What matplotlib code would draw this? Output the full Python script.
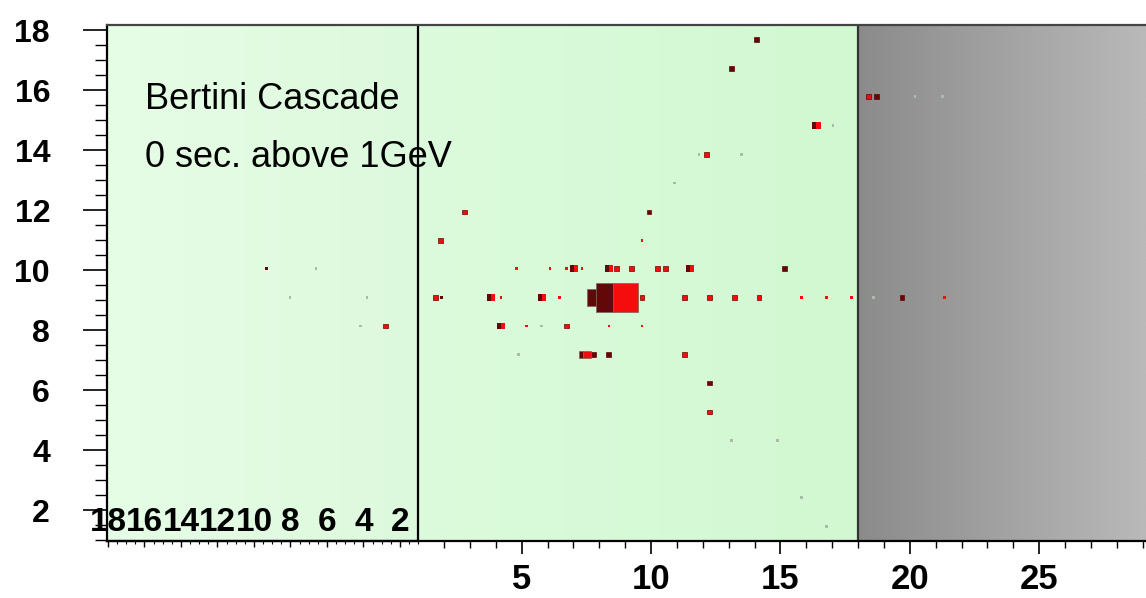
import matplotlib.pyplot as plt
import numpy as np
from matplotlib.colors import to_rgb
from matplotlib.ticker import FixedLocator, MultipleLocator

plt.rcParams['font.family'] = ['Liberation Sans', 'DejaVu Sans']

# axis ticks
y_major = [2, 4, 6, 8, 10, 12, 14, 16, 18]
x_major = [5, 10, 15, 20, 25]
x_minor = [v for v in range(2, 30) if v % 5]
inset_ticks = [18, 16, 14, 12, 10, 8, 6, 4, 2]

text_lines = ['Bertini Cascade', '0 sec. above 1GeV']

# cells of the 2D histogram: level 0 faint, 1 dark red, 2 red
tiny_x = [-4.86, -2.95, -3.96, -0.98, -1.22, 4.81, 6.09, 6.74, 7.33, 1.91, 4.20, 6.47,
          15.82, 16.78, 17.75, 18.6, 21.35, 5.19, 5.78, 8.37, 9.65, 4.86, 9.65, 17.03,
          11.85, 13.50, 10.89, 20.20, 21.25, 13.12, 14.87, 15.82, 16.78]
tiny_y = [10.05, 10.05, 9.09, 9.09, 8.14, 10.05, 10.05, 10.05, 10.05, 9.09, 9.09, 9.09,
          9.09, 9.09, 9.09, 9.09, 9.09, 8.14, 8.14, 8.14, 8.14, 7.19, 10.99, 14.82,
          13.86, 13.86, 12.90, 15.78, 15.78, 4.31, 4.31, 2.41, 1.46]
tiny_level = [1, 0, 0, 0, 0, 2, 2, 2, 2, 1, 2, 2,
              2, 2, 2, 0, 2, 2, 0, 2, 2, 0, 2, 0,
              0, 0, 0, 0, 0, 0, 0, 0, 0]

small_x = [14.08, 13.12, 12.15, 9.92, 2.80, 1.85, 8.67, 9.26, 10.23, 10.54, 15.14, 1.65,
           9.65, 11.28, 12.24, 13.21, 14.17, 19.7, 18.42, 18.73, -0.25, 6.74, 8.37, 11.28,
           12.24, 12.24, 7.77]
small_y = [17.68, 16.72, 13.86, 11.94, 11.94, 10.99, 10.05, 10.05, 10.05, 10.05, 10.05, 9.09,
           9.09, 9.09, 9.09, 9.09, 9.09, 9.09, 15.78, 15.78, 8.14, 8.14, 7.19, 7.19,
           6.23, 5.27, 7.19]
small_level = [1, 1, 2, 1, 2, 2, 2, 2, 2, 2, 1, 2,
               2, 2, 2, 2, 2, 1, 2, 1, 2, 2, 1, 2,
               1, 2, 1]

medium_x = [7.03, 8.37, 11.51, 3.81, 5.77, 4.21, 16.39]
medium_y = [10.05, 10.05, 10.05, 9.09, 9.09, 8.14, 14.82]

box_x0 = [7.52, 7.87, 8.53, 7.22, 7.37]
box_x1 = [7.87, 8.53, 9.50, 7.37, 7.68]
box_y0 = [8.80, 8.60, 8.60, 7.06, 7.06]
box_y1 = [9.37, 9.57, 9.57, 7.32, 7.32]
box_level = [1, 1, 2, 1, 2]

level_colors = ['#a9bca9', '#620808', '#f50d0d']

fig = plt.figure(figsize=(11.46, 5.98), dpi=100)
ax = fig.add_axes([0.0934, 0.0953, 0.9066, 0.8629])
xlo, xhi, ylo, yhi = -11.03, 29.13, 0.97, 18.17


def gradient(x0, x1, c0, c1):
    g = np.linspace(0, 1, 256)[None, :, None]
    img = np.array(to_rgb(c0)) * (1 - g) + np.array(to_rgb(c1)) * g
    ax.imshow(img, extent=(x0, x1, ylo, yhi), aspect='auto', zorder=0)


gradient(xlo, 1, '#e6fde6', '#ddf9dd')
gradient(1, 18, '#dcfbdc', '#d1f8d1')
gradient(18, xhi, '#8b8b8b', '#b9b9b9')
ax.axvline(1, color='black', lw=1.6, zorder=2)
ax.axvline(18, color='#333333', lw=1.6, zorder=2)

cols = [level_colors[l] for l in tiny_level]
ax.bar(tiny_x, 0.09, width=0.11, bottom=np.array(tiny_y) - 0.045, color=cols, lw=0, zorder=3)
cols = [level_colors[l] for l in small_level]
ax.bar(small_x, 0.15, width=0.19, bottom=np.array(small_y) - 0.075, color=cols,
       edgecolor='#6a0000', lw=0.5, zorder=3)
# medium cells: dark left half, red right half
ax.bar(np.array(medium_x) - 0.08, 0.22, width=0.16, bottom=np.array(medium_y) - 0.11,
       color=level_colors[1], lw=0, zorder=3)
ax.bar(np.array(medium_x) + 0.08, 0.22, width=0.16, bottom=np.array(medium_y) - 0.11,
       color=level_colors[2], lw=0, zorder=3)
cols = [level_colors[l] for l in box_level]
ax.bar(box_x0, np.array(box_y1) - np.array(box_y0), width=np.array(box_x1) - np.array(box_x0),
       bottom=box_y0, align='edge', color=cols, edgecolor='#7a6060', lw=0.5, zorder=3)

ax.set_xlim(xlo, xhi)
ax.set_ylim(ylo, yhi)

ax.set_yticks(y_major)
ax.yaxis.set_minor_locator(MultipleLocator(0.5))
ax.set_xticks(x_major)
ax.xaxis.set_minor_locator(FixedLocator(x_minor))
ax.tick_params(axis='y', which='major', length=17, width=1.2, pad=24, labelsize=23)
ax.tick_params(axis='y', which='minor', length=9, width=1.0)
ax.tick_params(axis='x', which='major', length=9.5, width=1.2, pad=6, labelsize=25)
ax.tick_params(axis='x', which='minor', length=5, width=1.0)
for lab in ax.get_xticklabels() + ax.get_yticklabels():
    lab.set_fontweight('bold')

ax.spines['right'].set_visible(False)
ax.spines['top'].set_color('#444444')
for s in ['top', 'left', 'bottom']:
    ax.spines[s].set_linewidth(1.6)

# inset axis with reversed scale along the bottom left panel
wfrac = (1 - xlo) / (xhi - xlo) * 0.9066
ax2 = fig.add_axes([0.0934, 0.0953, wfrac, 0.8629])
ax2.patch.set_alpha(0)
ax2.set_xlim(18.05, 1.0)
ax2.set_ylim(0, 1)
ax2.set_yticks([])
ax2.set_xticks(inset_ticks)
ax2.set_xticklabels([])
ax2.xaxis.set_minor_locator(MultipleLocator(0.5))
ax2.tick_params(axis='x', which='major', length=4.5, width=1.0)
ax2.tick_params(axis='x', which='minor', length=2.5, width=0.8)
for s in ['top', 'left', 'right']:
    ax2.spines[s].set_visible(False)
ax2.spines['bottom'].set_linewidth(1.6)
for v in inset_ticks:
    ax2.text(v, 0.035, str(v), transform=ax2.get_xaxis_transform(), ha='center',
             va='center', fontsize=24, fontweight='bold')

for i, line in enumerate(text_lines):
    ax2.text(0.0366 * 0.9066 / wfrac, 0.855 - 0.111 * i, line, transform=ax2.transAxes,
             fontsize=26, va='center', ha='left', zorder=5)

fig.savefig('out.png', dpi=100)
